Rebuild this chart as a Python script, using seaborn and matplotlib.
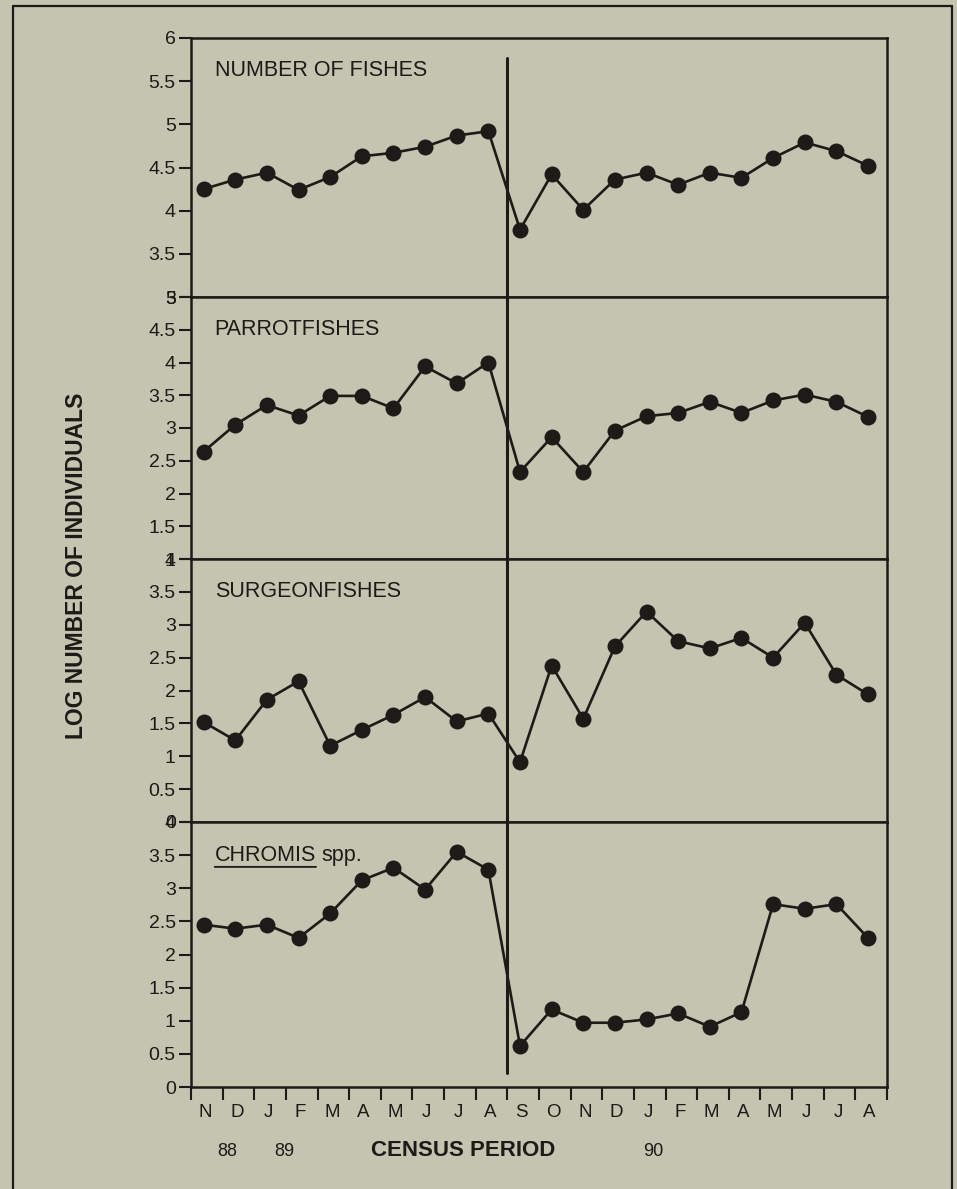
import numpy as np
import pandas as pd
import matplotlib
matplotlib.use("Agg")
import matplotlib.pyplot as plt
from matplotlib.lines import Line2D
from matplotlib.transforms import blended_transform_factory
import seaborn as sns

# Census months, Nov 1988 through Aug 1990
months = ["N", "D", "J", "F", "M", "A", "M", "J", "J", "A", "S",
          "O", "N", "D", "J", "F", "M", "A", "M", "J", "J", "A"]
years = ["88", "89", "90"]

# log number of individuals per census
all_fishes = [4.25, 4.36, 4.44, 4.24, 4.39, 4.63, 4.67, 4.74, 4.87, 4.92, 3.78,
              4.42, 4.01, 4.36, 4.44, 4.30, 4.44, 4.38, 4.61, 4.79, 4.69, 4.52]
parrotfishes = [2.64, 3.05, 3.35, 3.19, 3.49, 3.49, 3.30, 3.94, 3.68, 4.00, 2.33,
                2.86, 2.33, 2.96, 3.18, 3.23, 3.40, 3.23, 3.42, 3.51, 3.40, 3.17]
surgeonfishes = [1.52, 1.24, 1.86, 2.14, 1.16, 1.40, 1.63, 1.90, 1.53, 1.65, 0.91,
                 2.38, 1.57, 2.67, 3.20, 2.75, 2.64, 2.80, 2.50, 3.03, 2.24, 1.94]
chromis = [2.45, 2.39, 2.45, 2.25, 2.62, 3.12, 3.31, 2.98, 3.55, 3.28, 0.62,
           1.17, 0.97, 0.97, 1.02, 1.11, 0.91, 1.13, 2.76, 2.69, 2.76, 2.25]

panel_names = ["NUMBER OF FISHES", "PARROTFISHES", "SURGEONFISHES", "CHROMIS"]
panel_series = [all_fishes, parrotfishes, surgeonfishes, chromis]
panel_ranges = [(3, 6), (1, 5), (0, 4), (0, 4)]

# the storm struck between the August and September 1989 censuses
storm_boundary = 10

frames = []
for name, vals in zip(panel_names, panel_series):
    frames.append(pd.DataFrame({"panel": name,
                                "month": np.arange(len(vals)),
                                "value": vals}))
df = pd.concat(frames, ignore_index=True)
df["pos"] = df["month"] + 0.4

sns.set_theme(style="white")
plt.rcParams["font.family"] = ["Liberation Sans", "DejaVu Sans"]

bg = "#c3c5b0"
ink = "#1d1a17"

W, H = 957, 1189
fig = plt.figure(figsize=(W / 100, H / 100), dpi=100)
fig.patch.set_facecolor(bg)

x_left, x_right = 191 / W, 887 / W
edges = [38, 297, 559, 822, 1087]
axes = []
for k, (name, (lo, hi)) in enumerate(zip(panel_names, panel_ranges)):
    top = 1 - edges[k] / H
    bot = 1 - edges[k + 1] / H
    ax = fig.add_axes([x_left, bot, x_right - x_left, top - bot])
    ax.set_facecolor(bg)
    sub = df[df["panel"] == name]
    sns.lineplot(data=sub, x="pos", y="value", ax=ax, color=ink,
                 linewidth=1.9, marker="o", markersize=11.5,
                 markeredgewidth=0, markerfacecolor=ink)
    ax.set_xlim(0, len(months))
    ax.set_ylim(lo, hi)
    yt = np.arange(lo, hi + 0.01, 0.5)
    ax.set_yticks(yt)
    ax.set_yticklabels([f"{v:g}" for v in yt])
    ax.tick_params(axis="y", direction="out", length=9, width=1.5, pad=2,
                   labelsize=14, colors=ink, left=True)
    ax.set_xlabel("")
    ax.set_ylabel("")
    for s in ax.spines.values():
        s.set_color(ink)
        s.set_linewidth(1.8)
        s.set_visible(True)
    if k < 3:
        ax.set_xticks([])
    axes.append(ax)

# panel titles
for ax, name in zip(axes[:3], panel_names[:3]):
    ax.text(0.034, 0.875, name, transform=ax.transAxes, ha="left",
            va="center", fontsize=15.5, color=ink)
t_chr = axes[3].text(0.034, 0.875, "CHROMIS", transform=axes[3].transAxes,
                     ha="left", va="center", fontsize=15.5, color=ink)
axes[3].annotate("spp.", xy=(1, 0), xycoords=t_chr, xytext=(4, 0),
                 textcoords="offset points", ha="left", va="bottom",
                 fontsize=15.5, color=ink)
axes[3].annotate("", xy=(1, -0.06), xycoords=t_chr, xytext=(0, -0.06),
                 textcoords=t_chr,
                 arrowprops=dict(arrowstyle="-", lw=1.3, color=ink,
                                 shrinkA=0, shrinkB=0))

# month axis on the bottom panel
axb = axes[3]
axb.set_xticks(np.arange(0, len(months) + 1))
axb.set_xticklabels([])
axb.set_xticks(np.arange(len(months)) + 0.45, minor=True)
axb.set_xticklabels(months, minor=True)
axb.tick_params(axis="x", which="major", direction="out", length=9,
                width=1.5, colors=ink, bottom=True)
axb.tick_params(axis="x", which="minor", length=0, pad=12, labelsize=13.5,
                colors=ink, bottom=True)

# storm line across all panels
tr = blended_transform_factory(axb.transData, fig.transFigure)
fig.add_artist(Line2D([storm_boundary, storm_boundary],
                      [1 - 58 / H, 1 - 1073 / H], transform=tr,
                      color=ink, linewidth=2.2))

# year marks and axis title under the months
y_row = 1 - 1151 / H
year_x = {"88": 1.15, "89": 2.95, "90": 14.6}
for yr in years:
    fig.text(0, 0, yr, transform=tr, fontsize=13, color=ink,
             ha="center", va="center").set_position((year_x[yr], y_row))
fig.text(0, 0, "CENSUS PERIOD", transform=tr, fontsize=16,
         fontweight="bold", color=ink, ha="center",
         va="center").set_position((8.6, y_row))

fig.text(77 / W, 1 - 566 / H, "LOG NUMBER OF INDIVIDUALS", rotation=90,
         ha="center", va="center", fontsize=16.5, fontweight="bold",
         color=ink)

# outer frame
fx0, fx1, fy0 = 13 / W, 952 / W, 1 - 6 / H
for xs, ys in [([fx0, fx0], [fy0, -0.01]), ([fx0, fx1], [fy0, fy0]),
               ([fx1, fx1], [fy0, -0.01])]:
    fig.add_artist(Line2D(xs, ys, transform=fig.transFigure, color=ink,
                          linewidth=1.6))

fig.savefig("out.png", dpi=100, facecolor=bg)
